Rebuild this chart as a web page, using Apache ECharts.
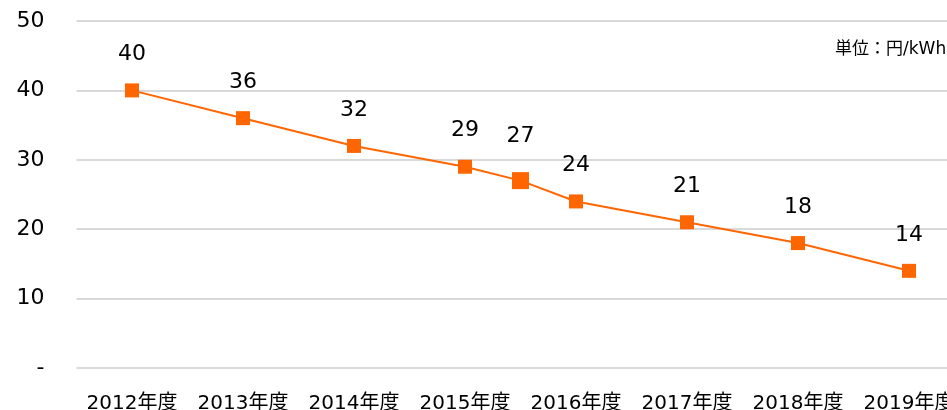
<!DOCTYPE html>
<html>
<head>
<meta charset="utf-8">
<script src="https://cdn.jsdelivr.net/npm/echarts@6/dist/echarts.min.js"></script>
<style>
  html, body { margin: 0; padding: 0; background: #fff; }
  #chart { width: 947px; height: 410px; }
</style>
</head>
<body>
<div id="chart"></div>
<script>
// 年度ラベル
const years = ["2012年度", "2013年度", "2014年度", "2015年度", "2016年度", "2017年度", "2018年度", "2019年度"];
// 位置 (年度の番号, 2015年度の途中に 27 円)
const positions = [0, 1, 2, 3, 3.5, 4, 5, 6, 7];
const prices = [40, 36, 32, 29, 27, 24, 21, 18, 14];
const yTicks = ["-", "10", "20", "30", "40", "50"];

const font = "'DejaVu Sans', Verdana, 'Noto Sans CJK JP', sans-serif";

const chart = echarts.init(document.getElementById("chart"));

const points = positions.map((x, i) => {
  const mid = x % 1 !== 0;
  return {
    value: [x, prices[i]],
    symbolSize: mid ? 17 : 14,
    label: { distance: mid ? 25 : 18 },
  };
});

chart.setOption({
  animation: false,
  grid: { left: 76.5, width: 888, top: 21, height: 347, outerBoundsMode: "none", containLabel: false },
  xAxis: [
    {
      type: "category",
      data: years,
      boundaryGap: true,
      axisLine: { show: false },
      axisTick: { show: false },
      axisLabel: { color: "#000", fontSize: 20, fontFamily: font, margin: 26, interval: 0 },
    },
    {
      type: "value",
      min: -0.5,
      max: 7.5,
      show: false,
    },
  ],
  yAxis: {
    type: "value",
    min: 0,
    max: 50,
    interval: 10,
    axisLine: { show: false },
    axisTick: { show: false },
    axisLabel: {
      color: "#000",
      fontSize: 22,
      fontFamily: font,
      margin: 32,
      formatter: (v) => yTicks[v / 10],
    },
    splitLine: { lineStyle: { color: "#d9d9d9", width: 2 } },
  },
  graphic: [
    {
      type: "text",
      left: 835,
      top: 41,
      style: { text: "単位：円/kWh", fontSize: 17, fill: "#000", fontFamily: font },
    },
  ],
  series: [
    {
      type: "line",
      xAxisIndex: 1,
      data: points,
      symbol: "rect",
      symbolSize: 14,
      itemStyle: { color: "#ff6600" },
      lineStyle: { color: "#ff6600", width: 2 },
      label: {
        show: true,
        position: "top",
        color: "#000",
        fontSize: 22,
        fontFamily: font,
        formatter: (p) => p.value[1],
      },
    },
  ],
});
</script>
</body>
</html>
